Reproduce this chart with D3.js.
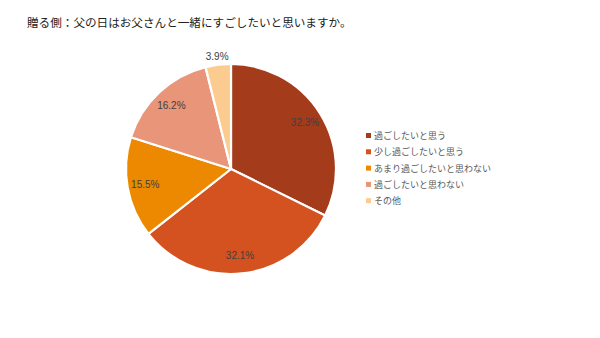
<!DOCTYPE html>
<html><head><meta charset="utf-8">
<script src="https://cdn.jsdelivr.net/npm/d3@7"></script>
<style>
html,body{margin:0;padding:0;background:#fff;}
svg{display:block;}
</style>
</head><body>
<svg id="chart" width="600" height="338"></svg>
<script>
const title = "贈る側：父の日はお父さんと一緒にすごしたいと思いますか。";
const categories = ["過ごしたいと思う","少し過ごしたいと思う","あまり過ごしたいと思わない","過ごしたいと思わない","その他"];
const values = [32.3, 32.1, 15.5, 16.2, 3.9];
const labels = ["32.3%","32.1%","15.5%","16.2%","3.9%"];
const colors = ["#A43C1C","#D4521F","#EC8900","#E8957A","#FCCB8F"];

const svg = d3.select("#chart");
const cx = 231, cy = 169, R = 105;
const jp = "'Noto Sans CJK JP','Noto Sans',sans-serif";

svg.append("text").attr("x", 27).attr("y", 27)
  .attr("font-family", jp).attr("font-size", 11.6).attr("fill", "#222")
  .text(title);

const pie = d3.pie().sort(null).value(d => d)(values);
const arc = d3.arc().innerRadius(0).outerRadius(R);
const g = svg.append("g").attr("transform", `translate(${cx},${cy})`);
g.selectAll("path").data(pie).join("path")
  .attr("d", arc).attr("fill", (d,i) => colors[i])
  .attr("stroke", "#fff").attr("stroke-width", 2.2).attr("stroke-linejoin","round");

const inArc = d3.arc().innerRadius(R*0.83).outerRadius(R*0.83);
const outArc = d3.arc().innerRadius(R*1.08).outerRadius(R*1.08);
g.selectAll("text.lbl").data(pie).join("text")
  .attr("class","lbl")
  .attr("transform", (d,i) => {
    const p = (d.endAngle - d.startAngle) < 0.4 ? outArc.centroid(d) : inArc.centroid(d);
    return `translate(${p[0]},${p[1]})`;
  })
  .attr("text-anchor","middle").attr("dy","0.35em")
  .attr("font-family","'Liberation Sans',Arial,sans-serif").attr("font-size", 10)
  .attr("fill","#404040")
  .text((d,i) => labels[i]);

const lg = svg.append("g").attr("transform","translate(366,136)");
const row = lg.selectAll("g").data(categories).join("g")
  .attr("transform",(d,i)=>`translate(0,${i*16.3})`);
row.append("rect").attr("x",0).attr("y",-3).attr("width",5).attr("height",5)
  .attr("fill",(d,i)=>colors[i]);
row.append("text").attr("x",8).attr("dy","0.35em")
  .attr("font-family", jp).attr("font-size", 9).attr("fill","#595959")
  .text(d=>d);
</script>
</body></html>
